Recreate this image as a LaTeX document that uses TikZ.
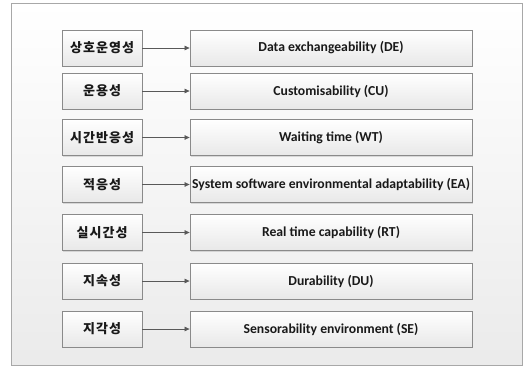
\documentclass[tikz,border=0pt]{standalone}
\usepackage{fontspec}
\setmainfont{Carlito}
\newfontfamily\kr[LetterSpace=8]{Noto Sans CJK KR}
\usetikzlibrary{shadows,arrows.meta}
\definecolor{boxline}{HTML}{8A8A8A}
\definecolor{frameline}{HTML}{A8A8A8}
\definecolor{arrowgray}{HTML}{595959}

\begin{document}
\begin{tikzpicture}[x=1pt,y=-1pt,
      every node/.style={draw=boxline,line width=0.8pt,
        top color=white,bottom color=black!9,
        drop shadow={opacity=0.25,shadow xshift=1pt,shadow yshift=-1pt},
        minimum height=36pt,inner sep=0pt,text=black!90},
      kbox/.style={minimum width=80pt,font=\kr\bfseries\fontsize{13}{15}\selectfont},
      ebox/.style={minimum width=282pt,font=\bfseries\fontsize{13.7}{15}\selectfont},
      link/.style={draw=arrowgray,line width=0.7pt,-{Triangle[length=5pt,width=4.5pt]}}]
      \useasboundingbox (0,0) rectangle (532,367);
      \draw[frameline,line width=0.8pt,top color=white,bottom color=black!8]
        (11,3) rectangle (522,365);
      % left column
      \node[kbox] (k1) at (102,48) {상호운영성};
      \node[kbox] (k2) at (102,91) {운용성};
      \node[kbox] (k3) at (102,137.5) {시간반응성};
      \node[kbox] (k4) at (102,184.5) {적응성};
      \node[kbox] (k5) at (102,232.5) {실시간성};
      \node[kbox] (k6) at (102,281) {지속성};
      \node[kbox] (k7) at (102,329) {지각성};
      % right column
      \node[ebox] (e1) at (331,48) {Data exchangeability (DE)};
      \node[ebox] (e2) at (331,91) {Customisability (CU)};
      \node[ebox] (e3) at (331,137.5) {Waiting time (WT)};
      \node[ebox] (e4) at (331,184.5) {System software environmental adaptability (EA)};
      \node[ebox] (e5) at (331,232.5) {Real time capability (RT)};
      \node[ebox] (e6) at (331,281) {Durability (DU)};
      \node[ebox] (e7) at (331,329) {Sensorability environment (SE)};
      % arrows
      \draw[link] (k1) -- (e1);
      \draw[link] (k2) -- (e2);
      \draw[link] (k3) -- (e3);
      \draw[link] (k4) -- (e4);
      \draw[link] (k5) -- (e5);
      \draw[link] (k6) -- (e6);
      \draw[link] (k7) -- (e7);
\end{tikzpicture}
\end{document}
